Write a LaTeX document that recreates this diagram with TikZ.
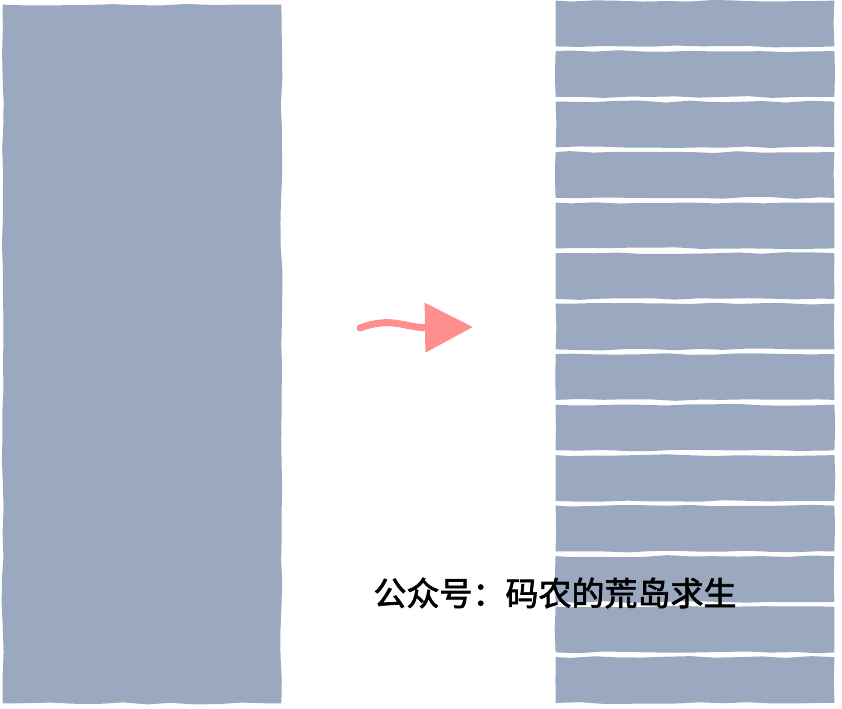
\documentclass[tikz,border=0pt]{standalone}
\usepackage{fontspec}
\newfontfamily\cjk{Noto Sans CJK SC}[AutoFakeBold=2]
\usetikzlibrary{arrows.meta,decorations.pathmorphing}
\definecolor{slate}{HTML}{9BA9C0}
\definecolor{salmon}{HTML}{FF8E8E}
\begin{document}
\begin{tikzpicture}[x=0.5pt,y=-0.5pt]
        \pgfmathsetseed{7}
        \useasboundingbox (0,0) rectangle (842,708);

        \begin{scope}[every node/.style={inner sep=0pt}]
          \node[minimum width=139pt,minimum height=349pt] (big) at (142,354) {};
          \foreach \i in {1,...,14}
            \node[minimum width=139pt,minimum height=22.5pt] (s\i) at (695,{23.5+50.5*(\i-1)}) {};
        \end{scope}

        \begin{scope}[every path/.style={fill=slate,decorate,
            decoration={random steps,segment length=12pt,amplitude=0.5pt}}]
          \fill (big.north west) rectangle (big.south east);
          \foreach \i in {1,...,14}
            \fill (s\i.north west) rectangle (s\i.south east);
        \end{scope}

        \coordinate (from) at (360,328);
        \coordinate (to)   at (473,327);
        \draw[salmon,line width=3.5pt,line cap=round,-{Triangle[length=24pt,width=24pt]}]
          (from) .. controls (392,316) and (405,328) .. (to);

        \node[font=\cjk\bfseries\fontsize{16.5pt}{18pt}\selectfont,inner sep=0pt] (title) at (555,593) {公众号：码农的荒岛求生};

      \end{tikzpicture}
\end{document}
